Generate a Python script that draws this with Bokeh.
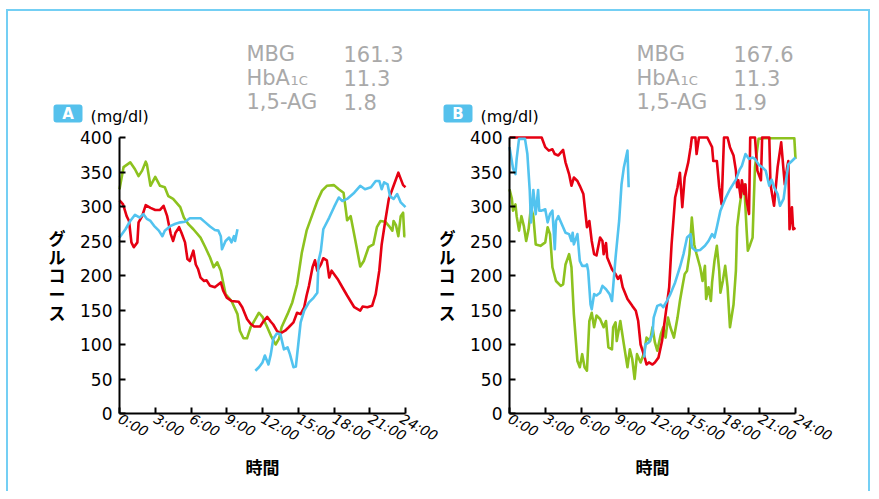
from bokeh.plotting import figure
from bokeh.models import Range1d, FixedTicker, Label
from bokeh.layouts import row
from bokeh.embed import file_html
from bokeh.resources import INLINE

# ---------------- data ----------------
x_ticks = [0, 3, 6, 9, 12, 15, 18, 21, 24]
x_tick_labels = ["0:00", "3:00", "6:00", "9:00", "12:00", "15:00", "18:00", "21:00", "24:00"]
y_ticks = [0, 50, 100, 150, 200, 250, 300, 350, 400]

stats_a = [("MBG", "161.3"), ("HbA", "11.3"), ("1,5-AG", "1.8")]
stats_b = [("MBG", "167.6"), ("HbA", "11.3"), ("1,5-AG", "1.9")]

# Panel A
green_a_h = [0, 0.34, 0.9, 1.3, 1.6, 1.9, 2.2, 2.3, 2.6, 3.0, 3.4, 3.8, 4.1, 4.5, 5.1, 5.4, 5.8, 6.2, 6.8, 7.2,
             7.6, 7.9, 8.2, 8.5, 8.7, 8.9, 9.4, 9.9, 10.1, 10.4, 10.7, 11.0, 11.3, 11.7, 12.0, 12.4, 12.7, 13.1,
             13.4, 13.6, 14.1, 14.5, 14.9, 15.3, 15.7, 16.2, 16.6, 17.0, 17.4, 18.0, 18.4, 18.8, 19.0, 19.1,
             19.4, 19.8, 20.2, 20.5, 20.9, 21.3, 21.6, 21.9, 22.3, 22.6, 22.9, 23.0, 23.2, 23.4, 23.6, 23.8,
             23.9, 24.0]
green_a_v = [325, 357, 364, 354, 344, 352, 365, 361, 330, 343, 330, 328, 315, 311, 299, 284, 274, 267, 255, 241,
             226, 212, 219, 207, 190, 173, 163, 144, 120, 109, 109, 125, 134, 146, 140, 125, 113, 100,
             109, 125, 144, 161, 187, 233, 265, 289, 308, 323, 330, 331, 325, 320, 294, 280,
             286, 250, 213, 221, 241, 245, 270, 279, 278, 272, 265, 279, 273, 257, 286, 291,
             257, 257]

red_a_h = [0, 0.3, 0.6, 0.8, 1.0, 1.2, 1.5, 1.6, 1.9, 2.2, 2.6, 3.0, 3.4, 3.7, 4.0, 4.3, 4.5, 4.7, 5.0, 5.2,
           5.5, 5.7, 5.9, 6.2, 6.4, 6.6, 6.8, 7.1, 7.3, 7.6, 8.0, 8.5, 8.7, 9.0, 9.4, 10.0, 10.3, 10.7, 11.0,
           11.3, 11.8, 12.1, 12.4, 12.7, 12.9, 13.2, 13.5, 13.9, 14.2, 14.6, 14.9, 15.2, 15.5, 15.7, 15.9,
           16.2, 16.4, 16.6, 16.9, 17.1, 17.4, 17.6, 17.8, 18.3, 18.7, 19.1, 19.7, 20.2, 20.4, 20.8, 21.2,
           21.5, 21.8, 22.0, 22.3, 22.6, 23.0, 23.4, 23.6, 23.8, 24.0]
red_a_v = [309, 303, 286, 279, 248, 241, 248, 277, 286, 302, 298, 295, 295, 301, 286, 260, 250, 262, 270, 262,
           248, 224, 221, 236, 216, 209, 197, 192, 193, 185, 183, 190, 178, 168, 163, 162, 154, 137, 130,
           126, 126, 134, 140, 133, 129, 120, 116, 120, 125, 132, 146, 144, 154, 171, 185,
           212, 222, 207, 216, 225, 222, 197, 207, 195, 183, 171, 154, 149, 155, 154, 156,
           173, 207, 245, 279, 311, 330, 349, 340, 331, 328]

blue_a1_h = [0, 0.5, 0.9, 1.3, 1.7, 2.0, 2.3, 2.6, 2.9, 3.3, 3.6, 3.8, 4.3, 4.7, 5.1, 5.5, 5.9, 6.4, 6.8, 7.2,
             7.6, 8.0, 8.3, 8.5, 8.6, 8.9, 9.2, 9.4, 9.6, 9.7, 9.9]
blue_a1_v = [255, 267, 279, 288, 284, 289, 282, 279, 272, 265, 257, 265, 272, 275, 277, 278, 283, 283, 283, 277,
             271, 266, 265, 257, 238, 250, 255, 248, 257, 250, 267]
blue_a2_h = [11.4, 11.7, 12.0, 12.2, 12.5, 12.7, 12.9, 13.2, 13.5, 13.8, 14.1, 14.3, 14.6, 14.8, 15.0, 15.2,
             15.5, 15.9, 16.3, 16.6, 16.7, 16.9, 17.1, 17.6, 18.0, 18.4, 18.7, 19.1, 19.7, 20.2, 20.6, 21.1,
             21.5, 21.8, 22.0, 22.2, 22.5, 22.7, 23.0, 23.3, 23.6, 24.0]
blue_a2_v = [62, 67, 74, 84, 71, 86, 108, 116, 115, 93, 96, 86, 67, 68, 100, 132,
             149, 161, 168, 175, 221, 236, 267, 284, 299, 313, 308, 311, 320, 330, 325, 328,
             337, 337, 325, 335, 332, 315, 311, 318, 306, 299]

# Panel B
red_b_h = [0, 2.7, 3.0, 3.3, 3.6, 3.8, 4.1, 4.5, 4.7, 5.0, 5.2, 5.4, 5.7, 5.9, 6.2, 6.5, 6.7, 6.9, 7.1, 7.3,
           7.6, 7.8, 7.9, 8.1, 8.2, 8.6, 8.9, 9.1, 9.3, 9.5, 9.9, 10.3, 10.6, 10.8, 11.0, 11.3, 11.5, 11.7,
           12.0, 12.2, 12.5, 12.8, 13.1, 13.4, 13.6, 13.9, 14.1, 14.3, 14.5, 14.7, 15.0, 15.2, 15.3, 15.6,
           15.7, 15.9, 16.6, 17.0, 17.1, 17.4, 17.6, 17.8, 18.0, 18.3, 18.5, 18.8, 19.0, 19.1, 19.2, 19.4,
           19.5, 19.7, 19.8, 19.9, 20.1, 20.2, 20.6, 20.8, 21.1, 21.2, 21.8, 21.9, 22.2, 22.5, 22.8, 23.0,
           23.1, 23.3, 23.4, 23.5, 23.7, 23.8, 24.0]
red_b_v = [400, 400, 386, 381, 383, 376, 374, 382, 364, 347, 330, 342, 337, 330, 318, 270, 279, 250, 231, 229,
           255, 250, 231, 247, 226, 209, 202, 195, 200, 183, 166, 156, 149, 134, 100, 84, 71, 74,
           71, 74, 81, 105, 144, 183, 245, 313, 328, 349, 299, 342, 364, 386, 400, 400,
           376, 400, 400, 386, 366, 366, 328, 303, 400, 400, 386, 374, 352, 328, 338, 313,
           338, 318, 332, 308, 289, 400, 400, 352, 338, 400, 400, 332, 301, 357, 393, 352,
           332, 357, 366, 267, 299, 267, 269]

blue_b1_h = [0, 0.3, 0.5, 0.6, 0.8, 1.3, 1.5, 1.7, 1.8, 2.0, 2.2, 2.4, 2.5, 2.7, 3.0, 3.2, 3.4, 3.6, 3.8, 3.9,
             4.1, 4.4, 4.7, 5.0, 5.2, 5.3, 5.4, 5.7, 5.9, 6.1, 6.4, 6.5, 6.6, 6.8, 6.9, 7.1, 7.3, 7.6, 7.8,
             8.1, 8.4, 8.6, 8.9, 9.2, 9.4, 9.6, 9.9, 10.0]
blue_b1_v = [386, 355, 347, 369, 398, 398, 376, 323, 277, 324, 289, 324, 294, 294, 296, 277, 289, 294, 238, 279,
             286, 274, 262, 260, 250, 262, 245, 260, 221, 214, 214, 216, 207, 158, 151, 173, 171, 175, 185,
             180, 173, 163, 226, 279, 332, 357, 381, 328]
blue_b2_h = [11.3, 11.4, 11.7, 12.0, 12.1, 12.4, 12.7, 12.9, 13.2, 13.5, 13.9, 14.3, 14.6, 14.9, 15.2, 15.3,
             15.6, 16.0, 16.4, 16.7, 17.0, 17.2, 17.4, 17.7, 18.1, 18.5, 19.0, 19.3, 19.5, 19.8, 20.1, 20.4,
             20.6, 20.9, 21.2, 21.5, 21.8, 22.0, 22.2, 22.5, 22.7, 23.0, 23.2, 23.4, 23.7, 24.0]
blue_b2_v = [81, 100, 103, 115, 139, 156, 158, 154, 163, 173, 190, 212, 231, 255, 260, 241,
             236, 237, 243, 250, 260, 255, 270, 294, 311, 325, 339, 353, 359, 376, 369, 371,
             369, 361, 357, 352, 330, 339, 328, 318, 301, 311, 337, 361, 366, 371]

green_b_h = [0, 0.2, 0.3, 0.5, 0.6, 0.8, 1.0, 1.2, 1.4, 1.6, 1.8, 2.0, 2.2, 2.6, 3.0, 3.2, 3.4, 3.6, 3.9, 4.3,
             4.5, 4.7, 4.9, 5.0, 5.2, 5.4, 5.7, 5.9, 6.1, 6.3, 6.5, 6.7, 6.9, 7.1, 7.3, 7.6, 7.9, 8.1, 8.3,
             8.6, 8.7, 8.9, 9.0, 9.3, 9.6, 9.9, 10.1, 10.3, 10.5, 10.7, 11.0, 11.3, 11.5, 11.8, 12.0, 12.2,
             12.4, 12.7, 12.9, 13.1, 13.3, 13.5, 13.8, 14.1, 14.3, 14.5, 14.7, 14.9, 15.1, 15.3, 15.5, 15.7,
             16.0, 16.2, 16.4, 16.5, 16.7, 16.9, 17.0, 17.2, 17.4, 17.6, 17.7, 17.9, 18.1, 18.3, 18.5, 18.8,
             19.0, 19.1, 19.3, 19.5, 19.7, 19.9, 20.0, 20.2, 20.4, 20.5, 20.6, 20.9, 21.3, 23.9, 24.0]
green_b_v = [325, 311, 294, 303, 286, 265, 286, 272, 250, 267, 299, 286, 245, 243, 248, 270, 260, 212, 192, 185,
             187, 216, 226, 231, 212, 144, 76, 67, 86, 67, 62, 134, 146, 125, 142, 137, 125, 134, 96,
             93, 125, 132, 105, 134, 100, 67, 93, 79, 50, 86, 74, 88, 110, 105, 125, 103,
             91, 115, 125, 110, 139, 125, 110, 139, 163, 183, 202, 207, 231, 284, 245, 231,
             212, 192, 214, 166, 183, 163, 190, 221, 243, 207, 175, 192, 214, 183, 125, 158,
             207, 270, 299, 323, 332, 265, 236, 245, 255, 308, 357, 398, 399, 399, 369]

panels = [
    dict(name="A", stats=stats_a,
         lines=[(green_a_h, green_a_v, "green"), (red_a_h, red_a_v, "red"),
                (blue_a1_h, blue_a1_v, "blue"), (blue_a2_h, blue_a2_v, "blue")]),
    dict(name="B", stats=stats_b,
         lines=[(green_b_h, green_b_v, "green"), (red_b_h, red_b_v, "red"),
                (blue_b1_h, blue_b1_v, "blue"), (blue_b2_h, blue_b2_v, "blue")]),
]

# ---------------- styling / layout ----------------
COLORS = {"red": "#e60012", "green": "#8dc21f", "blue": "#52c3ef"}
GRAY = "#a9a9a9"
BADGE = "#55c1ec"
FRAME_BLUE = "#74cff4"
JP = "Noto Sans CJK JP"
LAT = "DejaVu Sans"

HEIGHT = 491
X_MAX, Y_MAX = 24, 400
AX_W, AX_H = 286, 276            # pixel size of the 0..24 x 0..400 area
AX_TOP, AX_BOTTOM = 137, 413
specs = [
    dict(fig_left=0, width=440, ax_left=119),
    dict(fig_left=440, width=431, ax_left=509),
]


def make_panel(panel, spec):
    ppx = AX_W / X_MAX
    ppy = AX_H / Y_MAX
    L = spec["ax_left"]

    def dx(px):
        return (px - L) / ppx

    def dy(py):
        return (AX_BOTTOM - py) / ppy

    p = figure(width=spec["width"], height=HEIGHT, output_backend="svg", toolbar_location=None,
               title=None,
               x_range=Range1d(dx(spec["fig_left"]), dx(spec["fig_left"] + spec["width"])),
               y_range=Range1d(dy(HEIGHT), dy(0)), min_border=0)
    p.outline_line_color = None
    p.grid.visible = False
    p.background_fill_color = None
    p.border_fill_color = None

    for ax in (p.xaxis[0], p.yaxis[0]):
        ax.fixed_location = 0
        ax.axis_line_color = "black"
        ax.axis_line_width = 2
        ax.major_tick_line_color = "black"
        ax.major_tick_line_width = 2
        ax.major_tick_in = 6
        ax.major_tick_out = 0
        ax.minor_tick_line_color = None
        ax.major_label_text_color = "black"
    p.xaxis.bounds = (0, X_MAX)
    p.yaxis.bounds = (0, Y_MAX)
    p.xaxis.ticker = FixedTicker(ticks=x_ticks)
    p.xaxis.major_label_overrides = {t: s for t, s in zip(x_ticks, x_tick_labels)}
    p.xaxis.major_label_orientation = -0.5
    p.xaxis.major_label_text_font = LAT
    p.xaxis.major_label_text_font_style = "italic"
    p.xaxis.major_label_text_font_size = "14px"
    p.xaxis.major_label_standoff = 4
    p.yaxis.ticker = FixedTicker(ticks=y_ticks)
    p.yaxis.major_label_text_font = LAT
    p.yaxis.major_label_text_font_size = "17px"
    p.yaxis.major_label_standoff = 7

    for xs, ys, c in panel["lines"]:
        p.line(xs, ys, line_color=COLORS[c], line_width=2.6, line_join="round")

    def lab(px, py, text, **kw):
        p.add_layout(Label(x=dx(px), y=dy(py), text=text, **kw))

    # stats block
    for i, (k, v) in enumerate(panel["stats"]):
        yy = 53 + 24 * i
        lab(L + 127, yy, k, text_font=LAT, text_font_size="21px", text_color=GRAY,
            text_baseline="middle", text_align="left")
        lab(L + 224, yy, v, text_font=LAT, text_font_size="21px", text_color=GRAY,
            text_baseline="middle", text_align="left")
        if k == "HbA":
            lab(L + 171, yy + 3, "1C", text_font=LAT, text_font_size="13px", text_color=GRAY,
                text_baseline="middle", text_align="left")
    # badge and unit
    p.quad(left=[dx(L - 66)], right=[dx(L - 37)], top=[dy(104)], bottom=[dy(122)],
           fill_color=BADGE, line_color=None, border_radius=3)
    lab(L - 51.5, 113.5, panel["name"], text_font=LAT, text_font_size="15px", text_font_style="bold",
        text_color="white", text_baseline="middle", text_align="center")
    lab(L - 29, 116, "(mg/dl)", text_font=LAT, text_font_size="16px", text_color="black",
        text_baseline="middle", text_align="left")
    # vertical y title
    for j, ch in enumerate("グルコース"):
        lab(L - 62.5, 237 + 18.7 * j, ch, text_font=JP, text_font_size="17px", text_font_style="bold",
            text_color="black", text_baseline="middle", text_align="center")
    # x title
    lab(L + 143, 466, "時間", text_font=JP, text_font_size="17px", text_font_style="bold",
        text_color="black", text_baseline="middle", text_align="center")
    return p


figs = [make_panel(pn, sp) for pn, sp in zip(panels, specs)]
g = "linear-gradient(%s,%s)" % (FRAME_BLUE, FRAME_BLUE)
bg = ", ".join([
    g + " 6px 9px / 864px 2px no-repeat",
    g + " 6px 9px / 2px 500px no-repeat",
    g + " 868px 9px / 2px 500px no-repeat",
    "white",
])
layout = row(*figs, styles={"background": bg})

open("out.html", "w").write(file_html(layout, INLINE))
